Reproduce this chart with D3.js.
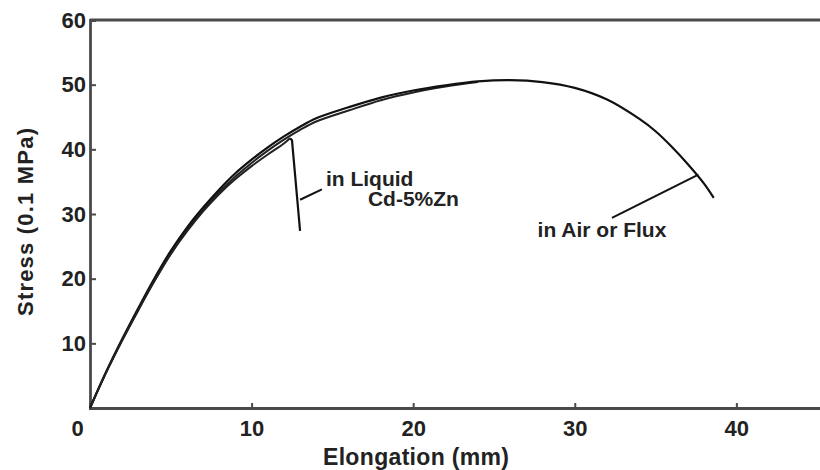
<!DOCTYPE html>
<html>
<head>
<meta charset="utf-8">
<script src="https://cdn.jsdelivr.net/npm/d3@7/dist/d3.min.js"></script>
<style>
  body { margin: 0; background: #fff; }
  text { font-family: "Liberation Sans", Arial, sans-serif; font-weight: bold; fill: #222; }
</style>
</head>
<body>
<div id="chart"></div>
<script>
// curves (elongation mm, stress 0.1 MPa)
var airX = [0, 1, 2, 3, 4, 5, 6, 7, 8, 9, 10, 11, 12, 13, 14, 16, 18, 20, 22, 24, 26, 28, 30, 32, 34, 35, 36, 37, 38, 38.6];
var airY = [0, 5.6, 10.7, 15.5, 20.1, 24.3, 27.9, 31.0, 33.8, 36.3, 38.4, 40.3, 42.0, 43.5, 44.8, 46.5, 48.0, 49.1, 49.9, 50.5, 50.7, 50.4, 49.5, 47.7, 44.7, 42.8, 40.4, 37.7, 34.7, 32.5];
var fluxX = [0, 1, 2, 3, 4, 5, 6, 7, 8, 9, 10, 11, 12, 13, 14, 16, 18, 20, 22, 24];
var fluxY = [0, 5.5, 10.5, 15.2, 19.7, 23.9, 27.5, 30.6, 33.4, 35.8, 37.9, 39.8, 41.5, 43.0, 44.3, 46.0, 47.6, 48.8, 49.7, 50.4];
var liquidX = [0, 1, 2, 3, 4, 5, 6, 7, 8, 9, 10, 11, 12, 12.38, 12.5, 13.0];
var liquidY = [0, 5.5, 10.5, 15.2, 19.7, 23.8, 27.3, 30.4, 33.1, 35.4, 37.4, 39.2, 40.9, 41.7, 41.4, 27.4];

var xTicks = [0, 10, 20, 30, 40];
var yTicks = [10, 20, 30, 40, 50, 60];

// annotations: label text, anchor point, leader line ends
var labels = [
  { text: "in Liquid", x: 14.6, y: 34.4 },
  { text: "Cd-5%Zn", x: 17.2, y: 31.2 },
  { text: "in Air or Flux", x: 27.7, y: 26.5 }
];
var leaders = [
  { x1: 13.0, y1: 32.2, x2: 14.35, y2: 33.8 },
  { x1: 32.3, y1: 29.4, x2: 37.65, y2: 36.1 }
];

var width = 820;
var height = 470;

var svg = d3
  .select("#chart")
  .append("svg")
  .attr("width", width)
  .attr("height", height);

var x = d3.scaleLinear().domain([0, 45.3]).range([90, 822]);
var y = d3.scaleLinear().domain([0, 60]).range([408, 20]);

var frameColor = "#4a4a4a";

// top frame line
svg
  .append("line")
  .attr("x1", x(0))
  .attr("x2", width)
  .attr("y1", y(60))
  .attr("y2", y(60))
  .attr("stroke", frameColor)
  .attr("stroke-width", 2.8);

var xAxis = svg
  .append("g")
  .attr("transform", "translate(0," + y(0) + ")")
  .call(
    d3.axisBottom(x)
      .tickValues(xTicks)
      .tickSize(-5)
      .tickPadding(12)
      .tickFormat(d3.format("d"))
  );

var yAxis = svg
  .append("g")
  .attr("transform", "translate(" + x(0) + ",0)")
  .call(
    d3.axisLeft(y)
      .tickValues(yTicks)
      .tickSize(-6)
      .tickPadding(6)
      .tickFormat(d3.format("d"))
  );

[xAxis, yAxis].forEach(function(a) {
  a.attr("font-size", null).attr("font-family", null);
  a.select(".domain").attr("stroke", frameColor).attr("stroke-width", 2.8);
  a.selectAll(".tick line").attr("stroke", frameColor).attr("stroke-width", 2);
  a.selectAll(".tick text")
    .style("font-size", "22px")
    .attr("fill", "#222");
});

// "0" sits left of the origin, 60 has no tick mark (it is the frame)
xAxis.selectAll(".tick")
  .filter(function(d) { return d === 0; })
  .select("text")
  .attr("dx", -13);
xAxis.selectAll(".tick")
  .filter(function(d) { return d === 0; })
  .select("line")
  .remove();
yAxis.selectAll(".tick")
  .filter(function(d) { return d === 60; })
  .select("line")
  .remove();
yAxis.selectAll(".tick text").attr("dx", 2);

// axis titles
svg
  .append("text")
  .attr("x", 416)
  .attr("y", 465)
  .attr("text-anchor", "middle")
  .style("font-size", "23px")
  .attr("textLength", 186)
  .text("Elongation (mm)");

svg
  .append("text")
  .attr("transform", "translate(33,222) rotate(-90)")
  .attr("text-anchor", "middle")
  .style("font-size", "22px")
  .attr("textLength", 188)
  .text("Stress (0.1 MPa)");

var line = d3
  .line()
  .x(function(d) { return x(d[0]); })
  .y(function(d) { return y(d[1]); })
  .curve(d3.curveCatmullRom.alpha(0.5));

var lineRaw = d3
  .line()
  .x(function(d) { return x(d[0]); })
  .y(function(d) { return y(d[1]); });

var zip = function(xs, ys) {
  return xs.map(function(v, i) { return [v, ys[i]]; });
};

svg
  .append("path")
  .datum(zip(fluxX, fluxY))
  .attr("d", line)
  .attr("fill", "none")
  .attr("stroke", "#222")
  .attr("stroke-width", 2);

svg
  .append("path")
  .datum(zip(airX, airY))
  .attr("d", line)
  .attr("fill", "none")
  .attr("stroke", "#111")
  .attr("stroke-width", 2.2);

// liquid curve: smooth up to the break, then straight drop
var liquid = zip(liquidX, liquidY);
var breakAt = 13;
svg
  .append("path")
  .datum(liquid.slice(0, breakAt + 1))
  .attr("d", line)
  .attr("fill", "none")
  .attr("stroke", "#222")
  .attr("stroke-width", 2);
svg
  .append("path")
  .datum(liquid.slice(breakAt))
  .attr("d", lineRaw)
  .attr("fill", "none")
  .attr("stroke", "#111")
  .attr("stroke-width", 2.2);

svg
  .selectAll(".leader")
  .data(leaders)
  .enter()
  .append("line")
  .attr("class", "leader")
  .attr("x1", function(d) { return x(d.x1); })
  .attr("y1", function(d) { return y(d.y1); })
  .attr("x2", function(d) { return x(d.x2); })
  .attr("y2", function(d) { return y(d.y2); })
  .attr("stroke", "#111")
  .attr("stroke-width", 2);

svg
  .selectAll(".note")
  .data(labels)
  .enter()
  .append("text")
  .attr("class", "note")
  .attr("x", function(d) { return x(d.x); })
  .attr("y", function(d) { return y(d.y); })
  .style("font-size", "21px")
  .text(function(d) { return d.text; });
</script>
</body>
</html>
